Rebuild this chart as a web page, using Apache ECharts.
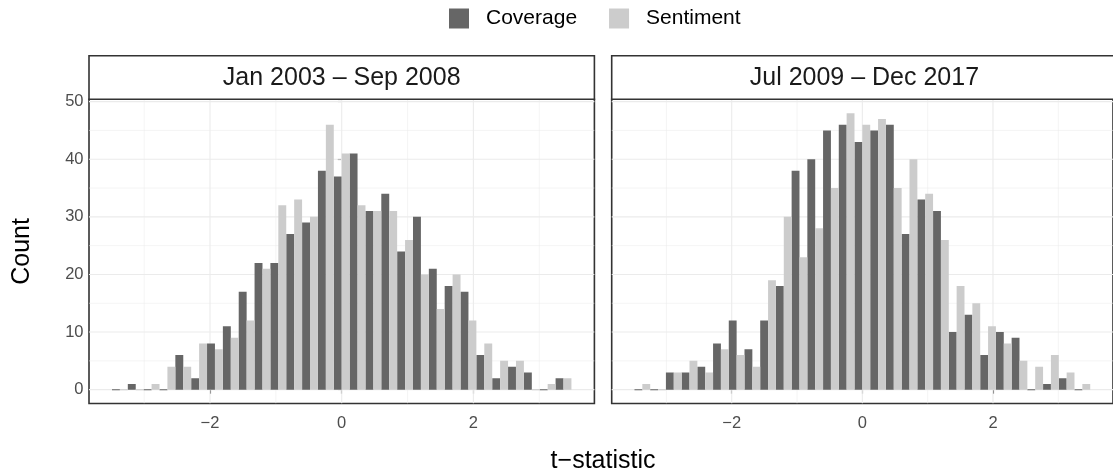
<!DOCTYPE html>
<html>
<head>
<meta charset="utf-8">
<script src="https://cdn.jsdelivr.net/npm/echarts@6/dist/echarts.min.js"></script>
<style>
  html, body { margin: 0; padding: 0; background: #ffffff; }
  #chart { width: 1113px; height: 475px; }
</style>
</head>
<body>
<div id="chart"></div>
<script>
// Histogram bins: centres sit on whole multiples of the bin width
const binWidth = 0.2406;
const binIndex = [-14, -13, -12, -11, -10, -9, -8, -7, -6, -5, -4, -3, -2, -1, 0,
                  1, 2, 3, 4, 5, 6, 7, 8, 9, 10, 11, 12, 13, 14];

// Counts per bin, one array per period and measure
const coverage2003  = [0, 1, 0, 0, 6, 2, 8, 11, 17, 22, 22, 27, 29, 38, 37, 41, 31, 34, 24, 30, 21, 18, 17, 6, 2, 4, 3, 0, 2];
const sentiment2003 = [0, 0, 1, 4, 4, 8, 7, 9, 12, 21, 32, 33, 30, 46, 41, 32, 31, 31, 26, 20, 14, 20, 12, 8, 5, 5, 0, 1, 2];
const coverage2009  = [0, 0, 3, 3, 4, 8, 12, 7, 12, 18, 38, 40, 45, 46, 43, 45, 46, 27, 33, 31, 10, 13, 6, 10, 9, 0, 1, 2, 0];
const sentiment2009 = [1, 0, 3, 5, 3, 7, 6, 4, 19, 30, 23, 28, 35, 48, 46, 47, 35, 40, 34, 26, 18, 15, 11, 8, 5, 4, 6, 3, 1];

const panelTitles = ['Jan 2003 \u2013 Sep 2008', 'Jul 2009 \u2013 Dec 2017'];
const seriesNames = ['Coverage', 'Sentiment'];
const seriesColors = ['#666666', '#CCCCCC'];

const xTicks = [-2, 0, 2];
const xMinorLines = [-3, -1, 1, 3];
const yTicks = [0, 10, 20, 30, 40, 50];
const yMinorLines = [5, 15, 25, 35, 45];

const FONT = '"Liberation Sans", Arial, Helvetica, sans-serif';

// Scale limits with 5% padding on each side
const centres = binIndex.map(k => k * binWidth);
const xHalf = (binIndex[binIndex.length - 1] + 0.5) * binWidth;
const xLim = xHalf * 1.1;
const yMaxData = Math.max(...coverage2003, ...sentiment2003, ...coverage2009, ...sentiment2009);
const yLim = [-0.05 * yMaxData, 1.05 * yMaxData];

// Panel placement
const panelTop = 99.3, panelH = 304.2, panelW = 505.4;
const panelLefts = [89, 611.7];
const stripTop = 55.7, stripH = panelTop - stripTop;

const minus = v => (v < 0 ? '\u2212' + Math.abs(v) : String(v));

// Dodged bar: left half of the bin for the first group, right half for the second
function barRenderer(side) {
  return function (params, api) {
    const c = api.value(0), v = api.value(1);
    const x0 = side === 0 ? c - binWidth / 2 : c;
    const x1 = side === 0 ? c : c + binWidth / 2;
    const top = api.coord([x0, v]);
    const base = api.coord([x1, 0]);
    let y = top[1], h = base[1] - top[1];
    if (h < 1) { y = base[1] - 0.5; h = 1; } // empty bins leave a hairline
    return {
      type: 'rect',
      shape: { x: top[0], y: y, width: base[0] - top[0], height: h },
      style: { fill: api.visual('color') }
    };
  };
}

// Background grid lines spanning the panel
function gridRenderer(params, api) {
  const cs = params.coordSys;
  const p = api.coord([api.value(0), api.value(1)]);
  const vertical = api.value(2) === 1;
  const major = api.value(3) === 1;
  const shape = vertical
    ? { x1: p[0], y1: cs.y, x2: p[0], y2: cs.y + cs.height }
    : { x1: cs.x, y1: p[1], x2: cs.x + cs.width, y2: p[1] };
  return {
    type: 'line',
    shape: shape,
    style: { stroke: '#EBEBEB', lineWidth: major ? 1.1 : 0.55 }
  };
}

const gridLineData = []
  .concat(yMinorLines.map(v => [0, v, 0, 0]))
  .concat(xMinorLines.map(v => [v, 0, 1, 0]))
  .concat(yTicks.map(v => [0, v, 0, 1]))
  .concat(xTicks.map(v => [v, 0, 1, 1]));

const panelData = [
  [coverage2003, sentiment2003],
  [coverage2009, sentiment2009]
];

const grids = [], xAxes = [], yAxes = [], series = [], graphics = [];

panelLefts.forEach((left, i) => {
  grids.push({
    left: left, top: panelTop, width: panelW, height: panelH,
    show: true, borderColor: '#333333', borderWidth: 1.6, backgroundColor: '#ffffff'
  });
  xAxes.push({
    type: 'value', gridIndex: i, min: -xLim, max: xLim,
    axisLine: { show: false },
    splitLine: { show: false },
    axisTick: { show: true, customValues: xTicks, length: 4, lineStyle: { color: '#333333', width: 1.1 } },
    axisLabel: {
      customValues: xTicks, formatter: minus, margin: 11,
      color: '#4D4D4D', fontSize: 16.5, fontFamily: FONT
    }
  });
  yAxes.push({
    type: 'value', gridIndex: i, min: yLim[0], max: yLim[1],
    axisLine: { show: false },
    splitLine: { show: false },
    axisTick: { show: i === 0, customValues: yTicks, length: 4, lineStyle: { color: '#333333', width: 1.1 } },
    axisLabel: {
      show: i === 0, customValues: yTicks, margin: 5.5,
      color: '#4D4D4D', fontSize: 16.5, fontFamily: FONT
    }
  });
  series.push({
    type: 'custom', name: 'grid' + i, xAxisIndex: i, yAxisIndex: i,
    silent: true, z: 1, clip: true,
    renderItem: gridRenderer, data: gridLineData
  });
  panelData[i].forEach((vals, g) => {
    series.push({
      type: 'custom', name: seriesNames[g], xAxisIndex: i, yAxisIndex: i,
      silent: true, z: 2, clip: true,
      itemStyle: { color: seriesColors[g] },
      renderItem: barRenderer(g),
      data: centres.map((c, j) => [c, vals[j]])
    });
  });

  // Facet strip above each panel
  graphics.push({
    type: 'rect', z: 10,
    shape: { x: left, y: stripTop, width: panelW, height: stripH },
    style: { fill: '#ffffff', stroke: '#333333', lineWidth: 1.6 }
  });
  graphics.push({
    type: 'text', z: 11, x: left + panelW / 2, y: stripTop + stripH / 2 + 0.5,
    style: { text: panelTitles[i], fill: '#1A1A1A', font: '25px ' + FONT, align: 'center', verticalAlign: 'middle' }
  });
});

graphics.push({
  type: 'text', x: 22, y: panelTop + panelH / 2, rotation: Math.PI / 2,
  style: { text: 'Count', fill: '#000000', font: '25px ' + FONT, align: 'center', verticalAlign: 'middle' }
});
graphics.push({
  type: 'text', x: (panelLefts[0] + panelLefts[1] + panelW) / 2, y: 461,
  style: { text: 't\u2212statistic', fill: '#000000', font: '25px ' + FONT, align: 'center', verticalAlign: 'middle' }
});

const chart = echarts.init(document.getElementById('chart'), null, { renderer: 'canvas' });
chart.setOption({
  animation: false,
  backgroundColor: '#ffffff',
  legend: {
    data: seriesNames, top: 8, left: 449, padding: 0,
    icon: 'rect', itemWidth: 20, itemHeight: 20, itemGap: 32,
    textStyle: { color: '#000000', fontSize: 21, fontFamily: FONT, padding: [0, 0, 0, 12] },
    selectedMode: false
  },
  grid: grids,
  xAxis: xAxes,
  yAxis: yAxes,
  series: series,
  graphic: graphics
});
</script>
</body>
</html>
